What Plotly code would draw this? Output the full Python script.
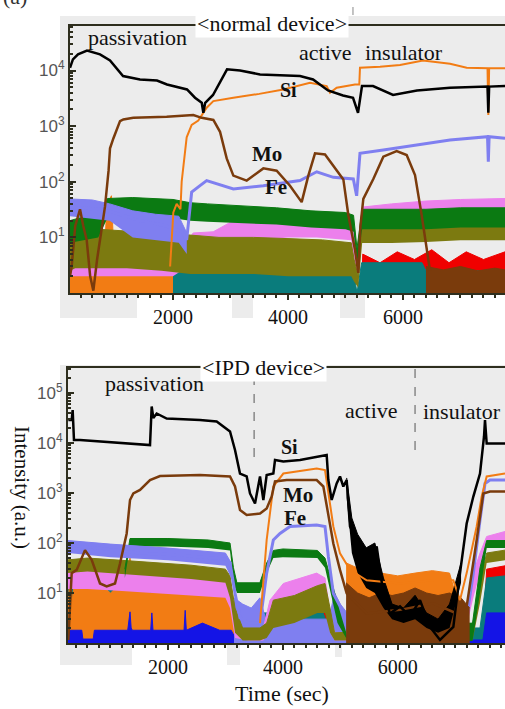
import plotly.graph_objects as go

W, H = 505, 709

# ---------------- colours ----------------
C_SI = "#000000"
C_OR = "#f27c14"
C_MO = "#7a3b0c"
C_FE = "#7f7ff0"
C_GR = "#0b7a12"
C_PK = "#ec80ec"
C_OL = "#7c7a10"
C_TL = "#0a7c7c"
C_RD = "#f00000"
C_BL = "#1414e6"
C_LV = "#8a88c8"

FLOOR = 0.9  # baseline just below axis minimum (10^0)

# ================= TOP PANEL: normal device =================
T_SI_X = [209, 260, 348, 505, 731, 905, 1131, 1426, 1722, 1896, 2244, 2383, 2500, 2528, 2560, 2696, 2940, 3166,
          3514, 4209, 4436, 4696, 4957, 5131, 5218, 5287, 5479, 5827, 6244, 6818, 7470, 7484, 7498, 7774]
T_SI_Y = [11200, 15800, 19500, 22900, 19500, 15100, 7940, 6900, 6600, 5600, 4570, 3240, 2630, 1740, 2630, 3630,
          10500, 10000, 8500, 7940, 6900, 4370, 3550, 3240, 1740, 5250, 5250, 3630, 4370, 4900, 5130, 1740, 5130, 5250]

T_OR_X = [1950, 2006, 2064, 2130, 2151, 2238, 2325, 2440, 2586, 2702, 3050, 3500, 3919, 4383, 4673, 4731, 4847,
          5165, 5240, 5252, 5600, 5948, 6348, 6818, 7108, 7470, 7484, 7498, 7774]
T_OR_Y = [3, 28, 40, 32, 100, 630, 1050, 1260, 2140, 2820, 3240, 3800, 4570, 6030, 5250, 3980, 4900,
          5620, 5620, 11200, 11700, 12600, 15100, 13200, 11200, 11000, 1580, 11000, 11000]
T_ORB_X = [209, 300, 400, 500, 600, 700, 800, 850, 930, 960, 1100, 1500, 2000]
T_ORB_HI = [8, 5, 6, 3, 5, 4, 3, 40, 56, 10, 3, 2.5, 2.5]

T_MO_X = [209, 238, 300, 383, 440, 499, 560, 615, 680, 731, 818, 880, 905, 963, 1079, 1137, 1310, 1890, 2354,
          2500, 2702, 2818, 2934, 3050, 3282, 3571, 3803, 4035, 4238, 4354, 4470, 4644, 4789, 4963, 5050, 5165,
          5223, 5260, 5310, 5484, 5658, 5890, 6064, 6209, 6325, 6412, 6470]
T_MO_Y = [2, 3, 16, 32, 16, 9, 2, 1.1, 4, 9, 36, 160, 400, 600, 1230, 1320, 1410, 1480, 1580,
          1410, 1290, 790, 263, 129, 105, 174, 158, 85, 43, 129, 324, 309, 195, 110, 25, 6,
          2.3, 16, 49, 112, 282, 355, 302, 132, 25, 6, 2.5]
T_MOB_X = [6400, 6700, 7000, 7300, 7600, 7774]
T_MOB_HI = [3, 2.6, 3, 2.5, 2.8, 2.6]

T_FE_X = [209, 731, 963, 1426, 1890, 2151, 2238, 2325, 2470, 2586, 3050, 3571, 4209, 4500, 4789, 5136, 5194,
          5252, 5658, 6238, 6818, 7470, 7484, 7498, 7774]
T_FE_Y = [35, 32, 28, 20, 16, 12.6, 9, 65, 85, 105, 74, 85, 105, 151, 120, 112, 56,
          324, 372, 457, 562, 646, 229, 646, 603]
T_FEB_X = [209, 600, 900, 1300, 1700, 2100, 2240]
T_FEB_HI = [49, 47, 40, 30, 26, 24, 12]
T_FEB_LO = [24, 22, 20, 10, 9, 8, 5]

T_GR_X = [209, 700, 860, 1300, 2000, 2300, 2600, 3200, 3800, 4400, 5000, 5140, 5200, 5290, 5800, 6400, 7000, 7774]
T_GR_HI = [20, 28, 50, 52, 48, 42, 40, 37, 34, 30, 28, 25, 6.3, 32, 32, 32, 34, 34]
T_GR_LO = [8, 10, 22, 25, 22, 20, 19, 18, 17, 15, 14, 12.6, 3.2, 14, 14, 14, 15, 15]

T_PK_X = [209, 1000, 2000, 2300, 2350, 2700, 3050, 3500, 4000, 4500, 5100, 5150, 5220, 5290, 5800, 6400, 7000, 7774]
T_PK_HI = [8, 8, 8.9, 10, 12, 12.6, 20, 22, 24, 25, 20, 10, 3.2, 35, 40, 45, 48, 50]
T_PK_LO = [2, 2, 2, 3.2, 4, 5, 8, 8.9, 10, 10, 8.9, 3.2, 1.6, 18, 20, 22, 24, 25]

T_OL_X = [209, 300, 700, 1200, 1800, 2300, 2800, 3400, 4000, 4600, 5100, 5150, 5220, 5290, 5800, 6400, 7000, 7774]
T_OL_HI = [16, 15, 14, 13, 12, 11, 10, 10, 9.5, 9, 8, 4, 2, 20, 20, 21, 22, 22]
T_OL_LO = [2.5, 2.8, 2.8, 2.8, 2.5, 2.2, 2.2, 2.2, 2, 2, 2, 1.6, 1.26, 7.9, 7.9, 8.3, 8.9, 8.9]

T_TL_X = [209, 2700, 2760, 5100, 5200, 5280, 6330, 6400, 7774]
T_TL_HI = [3, 3, 4.5, 4.5, 1, 3.5, 3.5, 2.5, 2.5]

T_RD_X = [209, 2700, 2760, 3340, 3400, 5280, 5300, 5600, 5900, 6200, 6500, 6800, 7100, 7400, 7774]
T_RD_HI = [1, 1, 5, 5, 1, 1, 5, 3.5, 5.5, 4, 6, 3.5, 5.5, 4, 5.5]

T_FL_X = [209, 7774]
T_FL_HI = [1.13, 1.13]

# ================= BOTTOM PANEL: IPD device =================
B_SI_X = [267, 325, 342, 365, 470, 1688, 1717, 1746, 1804, 1978, 2558, 2848, 3080, 3167, 3254, 3370, 3428, 3515,
          3602, 3660, 3718, 3834, 3863, 4008, 4298, 4588, 4762, 4791, 4849, 4936, 4994, 5052, 5110, 5168, 5226,
          5342, 5458, 5632, 5748, 5864, 6038, 6212, 6386, 6560, 6734, 6966, 7082, 7198, 7314, 7430, 7500, 7517,
          7546, 7865]
B_SI_Y = [28800, 28800, 45700, 11500, 11500, 9100, 53700, 31600, 38900, 30900, 28800, 26900, 17000, 7240, 2450,
          2140, 980, 617, 2140, 724, 2290, 2450, 4570, 4270, 4570, 5370, 5750, 1820, 724, 1550, 2140, 1350, 1820,
          214, 155, 85, 34, 85, 9.8, 3.9, 5.4, 3.4, 7.2, 2.1, 1.15, 2.1, 25, 245, 850, 2450, 13500, 28800,
          9800, 9800]
B_SIB_X = [5110, 5200, 5300, 5450, 5600, 5750, 5900, 6100, 6300, 6500, 6700, 6900, 7100]
B_SIB_HI = [2000, 316, 150, 80, 100, 20, 6, 5, 9, 4, 3, 6, 40]
B_SIB_LO = [794, 63, 25, 12.6, 10, 5, 3, 2.5, 3, 2, 1.6, 2, 16]

B_OR_X = [3602, 3718, 3776, 3834, 4008, 4588, 4733, 4791, 4878, 4994, 5168, 5458, 6038, 6618, 6966, 7082, 7198,
          7372, 7459, 7546, 7865]
B_OR_Y = [2.5, 115, 400, 1350, 2450, 3090, 2880, 980, 214, 62, 29, 18, 15.5, 18, 18, 7.2, 25, 214, 850, 2140, 2450]
B_ORB_X = [261, 300, 330, 360, 500, 800, 1000, 1200, 1282, 1340, 1400, 1500, 1700, 2000, 2400, 2800, 3100, 3200]
B_ORB_HI = [3.2, 50, 6.3, 12.6, 17.8, 15.8, 10, 15.8, 31.6, 50, 20, 12.6, 10, 12.6, 11.2, 10, 7.9, 2]
B_ORN_X = [5100, 5400, 5700, 6000, 6300, 6600, 6900, 7000]
B_ORN_HI = [40, 28, 25, 22, 25, 28, 25, 10]
B_ORN_LO = [10, 8, 8, 7, 8, 9, 8, 3]

B_MO_X = [267, 325, 412, 557, 673, 818, 934, 1079, 1166, 1282, 1340, 1398, 1514, 1688, 1862, 2558, 3080, 3167,
          3254, 3370, 3602, 3718, 3805, 3863, 4066, 4588, 4704, 4791, 4878, 4994, 5110, 5226, 5458, 6038, 6618,
          7024, 7198, 7372, 7488, 7604, 7865]
B_MO_Y = [1.15, 25, 29, 72, 46, 15.5, 13.5, 15.5, 39, 155, 724, 977, 1150, 1820, 2190, 2290, 2140, 1350,
          457, 363, 389, 490, 850, 1700, 1820, 1820, 1350, 339, 98, 29, 9.8, 7.2, 3.9, 4.6, 6.2,
          3.9, 5.4, 115, 977, 1070, 1070]
B_MOB_X = [5100, 5300, 5500, 5700, 5900, 6100, 6300, 6500, 6700, 6900, 7100, 7250]
B_MOB_HI = [16, 10, 8, 10, 8.9, 10, 12.6, 10, 8.9, 10, 8, 5]

B_FE_X = [267, 800, 1500, 2300, 3000, 3080, 3167, 3254, 3400, 3602, 3718, 3834, 3950, 4124, 4588, 4733, 4791,
          4878, 4994, 5168, 7140, 7314, 7430, 7517, 7604, 7865]
B_FE_Y = [89, 79, 63, 56, 48, 40, 10, 3.2, 2.5, 2.5, 25, 115, 155, 214, 229, 214, 54, 9.8, 5.4, 1.15, 1.15, 25, 288,
          1550, 1820, 1820]
B_FEB_X = [261, 1000, 2000, 3000, 3100]
B_FEB_HI = [112, 95, 79, 63, 40]
B_FEB_LO = [63, 52, 45, 35, 20]
B_FEF_X = [3150, 3300, 3450, 3600, 3700, 4800, 4900, 5000, 5200, 5500, 6000, 6500, 7000, 7200]
B_FEF_HI = [8, 6, 5, 8, 3, 3, 10, 6, 3, 2.5, 3, 2.5, 3, 2]

B_GR_X = [1250, 1282, 1340, 2000, 2700, 3080, 3140, 3200, 3600, 3718, 3834, 4000, 4600, 4733, 4850, 4950, 5100,
          7300, 7430, 7546, 7865]
B_GR_HI = [30, 50, 123, 123, 115, 100, 32, 16, 16, 40, 71, 76, 71, 50, 16, 6.3, 2, 2.5, 32, 112, 112]
B_GR_LO = [20, 32, 85, 85, 79, 71, 16, 10, 10, 25, 50, 52, 50, 32, 7.9, 2.5, 1.26, 1.1, 10, 79, 79]

B_OL_X = [261, 600, 1200, 1800, 2400, 3000, 3080, 3167, 3300, 3602, 3718, 3834, 4200, 4600, 4733, 4820, 4900,
          7300, 7430, 7546, 7865]
B_OL_HI = [46, 50, 45, 40, 36, 30, 22, 5, 2, 2, 2.5, 7.2, 8.9, 14, 15.5, 5, 1.6, 2, 16, 63, 72]
B_OL_LO = [25, 27, 24, 21, 19, 16, 8, 1.6, 1.12, 1.12, 1.26, 2, 2.5, 4, 4, 1.6, 1.12, 1.12, 6.3, 40, 45]

B_PK_X = [261, 600, 1200, 1800, 2400, 3000, 3080, 3167, 3400, 3660, 3776, 4008, 4588, 4733, 4820, 4900, 7140,
          7314, 7430, 7546, 7865]
B_PK_HI = [30, 28, 25, 22, 20, 16, 10, 2.5, 1.6, 2, 7.2, 15.5, 25, 20, 4, 1.6, 2, 25, 63, 135, 170]
B_PK_LO = [12, 12, 11, 10, 9, 8, 5, 1.26, 1.12, 1.12, 2.5, 6.3, 10, 7.9, 1.6, 1.12, 1.12, 7.9, 25, 79, 100]

B_TL_X = [261, 600, 1200, 2000, 3000, 3100, 3200, 4700, 4800, 7430, 7546, 7865]
B_TL_HI = [20, 16, 11.2, 10, 7.9, 3.2, 4, 4, 2, 2, 20, 22]

B_RD_X = [261, 4650, 4700, 4780, 4830, 7480, 7546, 7865]
B_RD_HI = [1, 1, 7, 7, 1, 1, 30, 35]

B_BL_X = [261, 500, 520, 700, 720, 1300, 1340, 1360, 1380, 1700, 1720, 1740, 2000, 2280, 2300, 2320, 2600, 2900,
          3100, 3200, 3700, 3800, 4800, 4900, 7480, 7546, 7865]
B_BL_HI = [1.8, 1.8, 1.2, 1.2, 1.8, 1.8, 4.2, 2, 1.8, 1.8, 4, 1.8, 1.8, 1.8, 4.5, 1.8, 2.5, 1.8,
           1.8, 1.1, 1.1, 2.5, 2.5, 1.15, 1.15, 4, 4]

B_FL_X = [261, 7865]
B_FL_HI = [1.13, 1.13]

BOUNDARIES_IPD = [3500, 6300]
BOUNDARY_NORMAL = 5130

TOP_XRANGE = [209, 7774]
BOT_XRANGE = [261, 7865]

# ---------------- figure ----------------
fig = go.Figure()


def band(x, hi, lo, color, xa, ya, lw=1):
    if lo is None:
        fig.add_trace(go.Scatter(x=[x[0], x[-1]], y=[FLOOR, FLOOR], mode="lines",
                                 line=dict(width=0, color=color), hoverinfo="skip",
                                 showlegend=False, xaxis=xa, yaxis=ya))
    else:
        fig.add_trace(go.Scatter(x=x, y=lo, mode="lines", line=dict(width=0, color=color),
                                 hoverinfo="skip", showlegend=False, xaxis=xa, yaxis=ya))
    fig.add_trace(go.Scatter(x=x, y=hi, mode="lines", line=dict(width=lw, color=color),
                             fill="tonexty", fillcolor=color, hoverinfo="skip",
                             showlegend=False, xaxis=xa, yaxis=ya))


def line(x, y, color, xa, ya, w=2):
    fig.add_trace(go.Scatter(x=x, y=y, mode="lines", line=dict(width=w, color=color),
                             hoverinfo="skip", showlegend=False, xaxis=xa, yaxis=ya))


# top panel traces
xa, ya = "x", "y"
band(T_FL_X, T_FL_HI, None, C_LV, xa, ya)
band(T_RD_X, T_RD_HI, None, C_RD, xa, ya)
band(T_TL_X, T_TL_HI, None, C_TL, xa, ya)
band(T_ORB_X, T_ORB_HI, None, C_OR, xa, ya)
band(T_PK_X, T_PK_HI, T_PK_LO, C_PK, xa, ya)
band(T_OL_X, T_OL_HI, T_OL_LO, C_OL, xa, ya)
band(T_GR_X, T_GR_HI, T_GR_LO, C_GR, xa, ya)
band(T_FEB_X, T_FEB_HI, T_FEB_LO, C_FE, xa, ya)
band(T_MOB_X, T_MOB_HI, None, C_MO, xa, ya)
line(T_FE_X, T_FE_Y, C_FE, xa, ya, 3)
line(T_OR_X, T_OR_Y, C_OR, xa, ya, 2)
line(T_MO_X, T_MO_Y, C_MO, xa, ya, 2.5)
line(T_SI_X, T_SI_Y, C_SI, xa, ya, 2.5)

# bottom panel traces
xa, ya = "x2", "y2"
band(B_FL_X, B_FL_HI, None, C_LV, xa, ya)
band(B_RD_X, B_RD_HI, None, C_RD, xa, ya)
band(B_TL_X, B_TL_HI, None, C_TL, xa, ya)
band(B_ORB_X, B_ORB_HI, None, C_OR, xa, ya)
band(B_BL_X, B_BL_HI, None, C_BL, xa, ya)
band(B_FEF_X, B_FEF_HI, None, C_FE, xa, ya)
band(B_PK_X, B_PK_HI, B_PK_LO, C_PK, xa, ya)
band(B_OL_X, B_OL_HI, B_OL_LO, C_OL, xa, ya)
band(B_GR_X, B_GR_HI, B_GR_LO, C_GR, xa, ya)
band(B_FEB_X, B_FEB_HI, B_FEB_LO, C_FE, xa, ya)
line(B_FE_X, B_FE_Y, C_FE, xa, ya, 3)
band(B_ORN_X, B_ORN_HI, B_ORN_LO, C_OR, xa, ya)
band(B_MOB_X, B_MOB_HI, None, C_MO, xa, ya)
band(B_SIB_X, B_SIB_HI, B_SIB_LO, C_SI, xa, ya)
line(B_OR_X, B_OR_Y, C_OR, xa, ya, 2)
line(B_MO_X, B_MO_Y, C_MO, xa, ya, 2.5)
line(B_SI_X, B_SI_Y, C_SI, xa, ya, 2.5)


def px(v):
    return v / W


def py(v):
    return 1 - v / H


FRAME = "#2e2e1e"
SERIF = "Liberation Serif, Times New Roman, serif"
SANS = "Liberation Sans, Arial, sans-serif"

xcommon = dict(showgrid=False, zeroline=False, showline=True, linecolor=FRAME, linewidth=2, mirror=True,
               ticks="outside", ticklen=5, tickwidth=1.5, tickcolor=FRAME,
               tickvals=[2000, 4000, 6000], ticktext=["2000", "4000", "6000"],
               tickfont=dict(family=SERIF, size=20, color="#111"),
               minor=dict(dtick=200, ticks="outside", ticklen=3, tickcolor=FRAME, showgrid=False))
ycommon = dict(type="log", showgrid=False, zeroline=False, showline=True, linecolor=FRAME, linewidth=2,
               ticks="inside", ticklen=6, tickwidth=1.5, tickcolor=FRAME,
               tickfont=dict(family=SANS, size=17, color="#555"),
               minor=dict(dtick="D1", ticks="inside", ticklen=3, tickcolor=FRAME, showgrid=False))

fig.update_layout(
    width=W, height=H, margin=dict(l=0, r=0, t=0, b=0),
    paper_bgcolor="white", plot_bgcolor="#ececec", showlegend=False, hovermode=False,
    xaxis=dict(domain=[px(70), 1], range=TOP_XRANGE, anchor="y", **xcommon),
    yaxis=dict(domain=[py(293), py(26)], range=[0, 4.8], anchor="x",
               tickvals=[10, 100, 1000, 10000],
               ticktext=["10<sup>1</sup>", "10<sup>2</sup>", "10<sup>3</sup>", "10<sup>4</sup>"], **ycommon),
    xaxis2=dict(domain=[px(68), 1], range=BOT_XRANGE, anchor="y2", **xcommon),
    yaxis2=dict(domain=[py(643), py(368)], range=[0, 5.5], anchor="x2",
                tickvals=[10, 100, 1000, 10000, 100000],
                ticktext=["10<sup>1</sup>", "10<sup>2</sup>", "10<sup>3</sup>", "10<sup>4</sup>", "10<sup>5</sup>"],
                **ycommon),
)

GRAY = "#ececec"
shapes = []
for (x0, x1, y0, y1) in [(60, 505, 16, 293), (60, 137, 293, 318), (232, 253, 293, 318), (340, 365, 293, 318),
                         (60, 505, 365, 643), (60, 132, 643, 665), (227, 240, 643, 665), (335, 342, 643, 657)]:
    shapes.append(dict(type="rect", xref="paper", yref="paper", x0=px(x0), x1=px(x1), y0=py(y1), y1=py(y0),
                       fillcolor=GRAY, line=dict(width=0), layer="below"))
# layer boundaries (dashed)
shapes.append(dict(type="line", xref="x2", yref="paper", x0=BOUNDARIES_IPD[0], x1=BOUNDARIES_IPD[0],
                   y0=py(457), y1=py(375), line=dict(color="#888", width=1.5, dash="dash")))
shapes.append(dict(type="line", xref="x2", yref="paper", x0=BOUNDARIES_IPD[1], x1=BOUNDARIES_IPD[1],
                   y0=py(450), y1=py(367), line=dict(color="#888", width=1.5, dash="dash")))
shapes.append(dict(type="line", xref="x", yref="paper", x0=BOUNDARY_NORMAL, x1=BOUNDARY_NORMAL,
                   y0=py(15), y1=py(7), line=dict(color="#888", width=1)))
fig.update_layout(shapes=shapes)


def ann(text, x, y, size=22, bold=False, bg=None, angle=0, color="#111"):
    t = f"<b>{text}</b>" if bold else text
    d = dict(text=t, x=px(x), y=py(y), xref="paper", yref="paper", showarrow=False,
             xanchor="center", yanchor="middle", textangle=angle,
             font=dict(family=SERIF, size=size, color=color))
    if bg:
        d.update(bgcolor=bg, borderpad=1)
    fig.add_annotation(**d)


ann("(a)", 15, -4, size=22, color="#333")
ann("&lt;normal device&gt;", 272, 24, bg="white")
ann("passivation", 137, 37)
ann("active", 325, 52)
ann("insulator", 404, 52)
ann("Si", 288, 90, size=20, bold=True)
ann("Mo", 267, 154, size=21, bold=True)
ann("Fe", 276, 187, size=21, bold=True)

ann("&lt;IPD device&gt;", 263, 367, bg="white")
ann("passivation", 154, 383)
ann("active", 371, 410)
ann("insulator", 462, 411)
ann("Si", 289, 447, size=20, bold=True)
ann("Mo", 298, 495, size=21, bold=True)
ann("Fe", 295, 518, size=21, bold=True)

ann("Time (sec)", 282, 693, size=22)
ann("Intensity (a.u.)", 22, 487, size=21, angle=90)

fig.write_html("out.html", config={"displayModeBar": False},
               post_script="document.body.style.margin='0';document.body.style.overflow='hidden';")
